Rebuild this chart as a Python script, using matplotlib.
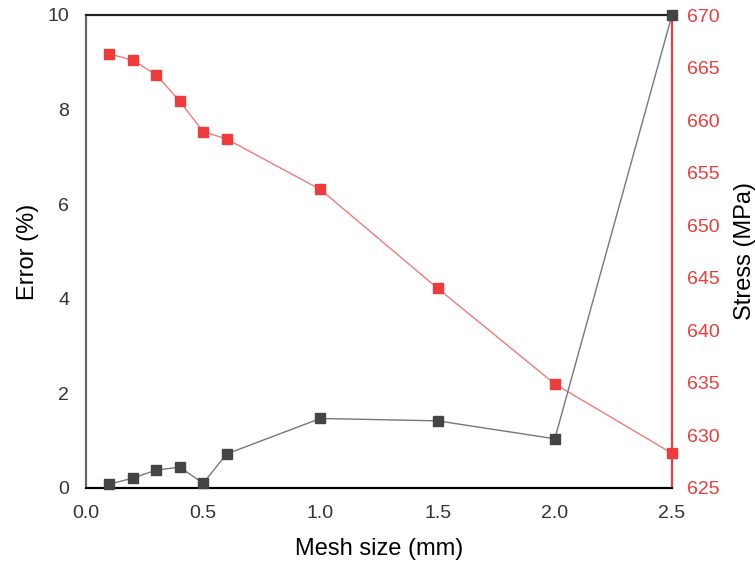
import matplotlib.pyplot as plt

plt.rcParams['font.family'] = ['Liberation Sans', 'DejaVu Sans']

# mesh sizes (mm)
mesh = [0.1, 0.2, 0.3, 0.4, 0.5, 0.6, 1.0, 1.5, 2.0, 2.5]
# error (%)
error = [0.08, 0.21, 0.38, 0.44, 0.10, 0.72, 1.47, 1.42, 1.04, 10.0]
# stress (MPa)
stress = [666.3, 665.7, 664.3, 661.8, 658.9, 658.2, 653.4, 644.0, 634.9, 628.3]

red = '#ee3b3b'
dark = '#444444'

fig = plt.figure(figsize=(7.55, 5.68), dpi=100)
ax = fig.add_axes([86/755, 1-488/568, 586/755, 473/568])
ax2 = ax.twinx()

ax.plot(mesh, error, color='#777777', lw=1, marker='s', ms=6.5,
        mfc=dark, mec=dark, zorder=3, clip_on=False)
ax2.plot(mesh, stress, color='#f47a7a', lw=1, marker='s', ms=6.5,
         mfc=red, mec=red, zorder=3, clip_on=False)

ax.set_xlim(0, 2.5)
ax.set_ylim(0, 10)
ax2.set_ylim(625, 670)
ax.set_xticks([0.0, 0.5, 1.0, 1.5, 2.0, 2.5])
ax.set_yticks([0, 2, 4, 6, 8, 10])
ax2.set_yticks([625, 630, 635, 640, 645, 650, 655, 660, 665, 670])

ax.tick_params(axis='both', length=0, labelsize=14, labelcolor='#333333', pad=12)
ax2.tick_params(axis='y', length=0, labelsize=14, labelcolor=red, pad=11)

ax.set_xlabel('Mesh size (mm)', fontsize=17, labelpad=12)
ax.set_ylabel('Error (%)', fontsize=17, labelpad=6)
ax2.set_ylabel('Stress (MPa)', fontsize=17, labelpad=10)

for a in (ax, ax2):
    a.spines['left'].set_color('#666666')
    a.spines['left'].set_linewidth(1.5)
    a.spines['bottom'].set_color('black')
    a.spines['bottom'].set_linewidth(1.5)
    a.spines['top'].set_color('#222222')
    a.spines['top'].set_linewidth(1.5)
    a.spines['right'].set_color(red)
    a.spines['right'].set_linewidth(1.5)

ax.set_zorder(ax2.get_zorder() + 1)
ax.patch.set_visible(False)

fig.savefig('out.png', dpi=100)
